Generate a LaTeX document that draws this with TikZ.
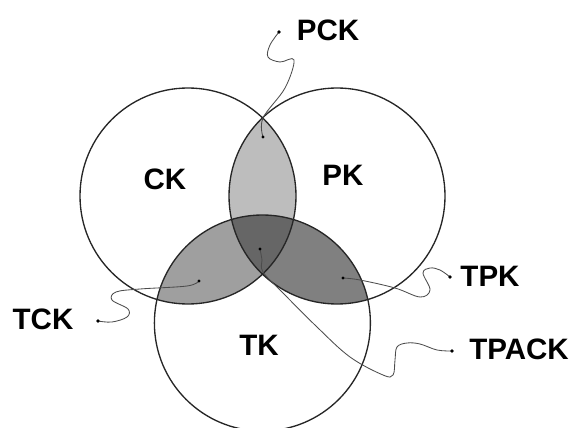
\documentclass[tikz,border=0pt]{standalone}
\usepackage{fontspec}
\setmainfont{Liberation Sans}
\tikzset{
  lbl/.style={inner sep=0pt,font=\fontsize{21}{25}\selectfont\bfseries},
  wire/.style={gray!60!black,line width=0.6pt},
  ring/.style={black!85,line width=0.95pt}
}
\begin{document}
\begin{tikzpicture}
\useasboundingbox (0,0) rectangle (14.35,10.675);
%\draw[step=0.5cm,gray,very thin] (0,0) grid (14,10);
\coordinate (c) at (4.70,5.775);
\coordinate (p) at (8.425,5.775);
\coordinate (t) at (6.56,2.60);
% shaded overlaps
\begin{scope}\clip (c) circle (2.7); \fill[gray!52] (p) circle (2.7); \end{scope}
\begin{scope}\clip (c) circle (2.7); \fill[gray!75] (t) circle (2.7); \end{scope}
\begin{scope}\clip (p) circle (2.7); \fill[gray!100] (t) circle (2.7); \end{scope}
\begin{scope}\clip (c) circle (2.7); \clip (p) circle (2.7); \fill[black!60] (t) circle (2.7); \end{scope}
\draw[ring] (c) circle (2.7);
\draw[ring] (p) circle (2.7);
\draw[ring] (t) circle (2.7);
\node[lbl] (ck) at (4.125,6.20) {CK};
\node[lbl] (pk) at (8.575,6.30) {PK};
\node[lbl] (tk) at (6.475,2.05) {TK};
\node[lbl] (pck) at (8.20,9.925) {PCK};
\node[lbl] (tck) at (1.075,2.70) {TCK};
\node[lbl] (tpk) at (12.25,3.775) {TPK};
\node[lbl] (tpack) at (12.975,1.95) {TPACK};
\coordinate (pckdot) at (6.975,9.875);
\coordinate (pckin) at (6.575,7.25);
\coordinate (tckdot) at (2.45,2.65);
\coordinate (tckin) at (4.975,3.65);
\coordinate (tpkdot) at (11.25,3.75);
\coordinate (tpkin) at (8.575,3.725);
\coordinate (tpackdot) at (11.30,1.90);
\coordinate (tpackin) at (6.50,4.45);
\draw[wire] plot[smooth,tension=0.6] coordinates {(pckdot) (6.75,9.55) (6.70,9.25) (7.00,9.125) (7.35,9.175) (7.125,8.475) (6.575,7.725) (pckin)};
\draw[wire] plot[smooth,tension=0.6] coordinates {(tckdot) (2.80,2.625) (3.175,2.75) (3.20,2.95) (2.80,3.175) (2.90,3.375) (3.50,3.45) (4.675,3.525) (tckin)};
\draw[wire] plot[smooth,tension=0.6] coordinates {(tpkdot) (11.00,3.925) (10.75,3.975) (10.575,3.85) (10.75,3.425) (10.50,3.25) (9.875,3.475) (9.00,3.675) (tpkin)};
\draw[wire] plot[smooth,tension=0.6] coordinates {(tpackdot) (10.925,1.925) (10.50,2.075) (10.175,2.10) (9.925,2.00) (9.875,1.675) (9.825,1.30) (9.575,1.30) (8.75,1.75) (7.925,2.50) (7.075,3.35) (6.575,3.875) (6.55,4.175) (tpackin)};
\foreach \d in {pckdot,tckdot,tpkdot,tpackdot}
  \fill[black] (\d) circle (1.4pt);
\foreach \d in {pckin,tckin,tpkin,tpackin}
  \fill[black] (\d) circle (1.1pt);
\end{tikzpicture}
\end{document}
